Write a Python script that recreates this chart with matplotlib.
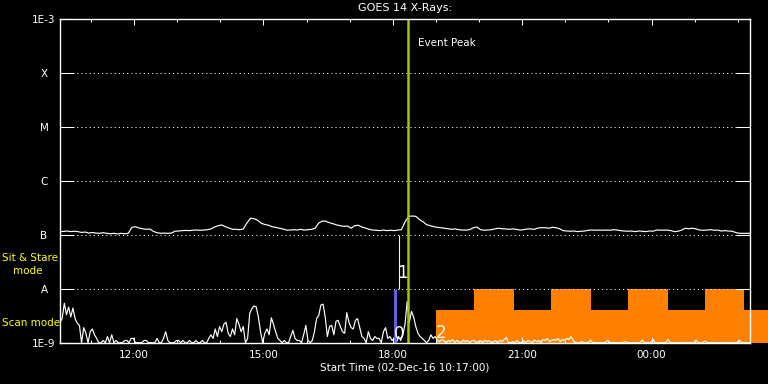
import numpy as np
import matplotlib
matplotlib.use("Agg")
import matplotlib.pyplot as plt
from matplotlib.ticker import FixedLocator, NullLocator, FuncFormatter, MultipleLocator

# ---------------- data ----------------
# time in hours since 00:00 on 02-Dec-2016
t_start = 10 + 17 / 60.0
t_span = 16.0

# GOES 14 long channel (1-8 A), 5-minute cadence, in units of 1e-7 W/m^2
long_vals = [
    1.15, 1.16, 1.18, 1.15, 1.17, 1.15, 1.11, 1.13, 1.08, 1.11,
    1.08, 1.07, 1.10, 1.07, 1.05, 1.07, 1.04, 1.07, 1.05, 1.07,
    1.38, 1.42, 1.34, 1.30, 1.27, 1.29, 1.16, 1.10, 1.07, 1.08,
    1.07, 1.08, 1.17, 1.18, 1.20, 1.21, 1.20, 1.22, 1.23, 1.22,
    1.23, 1.25, 1.29, 1.40, 1.48, 1.53, 1.42, 1.34, 1.27, 1.27,
    1.25, 1.29, 1.66, 2.03, 2.00, 1.87, 1.64, 1.56, 1.51, 1.42,
    1.38, 1.33, 1.29, 1.23, 1.23, 1.25, 1.23, 1.27, 1.23, 1.25,
    1.27, 1.33, 1.66, 1.81, 1.79, 1.68, 1.61, 1.53, 1.48, 1.44,
    1.46, 1.33, 1.48, 1.51, 1.40, 1.34, 1.27, 1.23, 1.22, 1.20,
    1.23, 1.20, 1.22, 1.20, 1.23, 1.25, 1.73, 2.21, 2.24, 2.21,
    1.93, 1.76, 1.55, 1.48, 1.42, 1.38, 1.36, 1.33, 1.30, 1.27,
    1.29, 1.25, 1.23, 1.23, 1.25, 1.36, 1.40, 1.25, 1.22, 1.23,
    1.25, 1.29, 1.33, 1.30, 1.29, 1.27, 1.29, 1.27, 1.23, 1.25,
    1.29, 1.29, 1.27, 1.34, 1.36, 1.36, 1.33, 1.38, 1.36, 1.30,
    1.20, 1.18, 1.17, 1.18, 1.15, 1.17, 1.18, 1.22, 1.23, 1.22,
    1.23, 1.22, 1.23, 1.22, 1.25, 1.23, 1.20, 1.18, 1.17, 1.18,
    1.15, 1.18, 1.17, 1.15, 1.18, 1.17, 1.23, 1.23, 1.22, 1.23,
    1.20, 1.15, 1.17, 1.23, 1.33, 1.30, 1.33, 1.29, 1.23, 1.22,
    1.23, 1.25, 1.22, 1.23, 1.18, 1.20, 1.18, 1.17, 1.11, 1.07,
    1.07, 1.07, 1.07,
]

# GOES 14 short channel (0.5-4 A), 3-minute cadence, in units of 1e-9 W/m^2
short_vals = [
    2.4, 2.8, 5.4, 3.3, 4.6, 3.0, 4.4, 2.8, 2.3, 2.1,
    1.0, 1.9, 1.5, 1.0, 1.6, 1.8, 1.4, 1.2, 1.0, 1.0,
    1.1, 1.0, 1.3, 1.0, 1.4, 1.0, 1.1, 1.0, 1.0, 1.0,
    1.1, 1.1, 1.0, 1.2, 1.2, 1.0, 1.0, 1.0, 1.0, 1.1,
    1.1, 1.0, 1.0, 1.0, 1.0, 1.2, 1.0, 1.0, 1.2, 1.6,
    1.1, 1.0, 1.0, 1.0, 1.1, 1.1, 1.0, 1.1, 1.0, 1.0,
    1.1, 1.0, 1.0, 1.1, 1.0, 1.0, 1.1, 1.0, 1.0, 1.2,
    1.4, 1.2, 1.8, 1.3, 2.0, 1.6, 2.2, 2.4, 1.5, 1.3,
    1.8, 1.4, 2.8, 2.2, 1.6, 2.0, 1.0, 1.2, 3.5, 4.3,
    4.8, 4.6, 3.0, 1.6, 1.0, 1.5, 1.8, 1.4, 2.9, 2.2,
    1.6, 1.2, 1.1, 1.0, 1.1, 1.0, 1.0, 1.3, 1.7, 1.2,
    1.1, 1.1, 1.0, 1.4, 2.1, 1.1, 1.0, 1.1, 1.6, 2.8,
    3.2, 5.0, 5.2, 3.0, 1.3, 2.0, 2.1, 1.4, 2.5, 2.6,
    2.0, 1.6, 1.5, 3.6, 2.4, 1.9, 1.8, 2.6, 2.8, 1.9,
    1.3, 1.2, 1.0, 1.6, 1.2, 1.1, 1.3, 1.2, 1.2, 1.0,
    1.6, 1.9, 1.2, 1.3, 1.1, 1.2, 1.0, 1.3, 1.1, 1.4,
    2.2, 5.8, 2.4, 3.8, 3.0, 2.0, 1.5, 1.3, 1.2, 1.1,
    1.0, 1.1, 1.4, 1.2, 1.3, 1.1, 1.05, 1.15, 1.1, 1.0,
    1.1, 1.05, 1.15, 1.0, 1.1, 1.05, 1.0, 1.12, 1.05, 1.1,
    1.0, 1.08, 1.12, 1.0, 1.05, 1.1, 1.0, 1.12, 1.05, 1.1,
    1.0, 1.05, 1.1, 1.0, 1.12, 1.05, 1.15, 1.25, 1.0, 1.0,
    1.05, 1.0, 1.1, 1.0, 1.0, 1.08, 1.0, 1.1, 1.05, 1.0,
    1.12, 1.05, 1.1, 1.0, 1.15, 1.1, 1.2, 1.05, 1.1, 1.15,
    1.1, 1.2, 1.05, 1.15, 1.1, 1.2, 1.15, 1.3, 1.1, 1.0,
    1.0, 1.0, 1.05, 1.0, 1.0, 1.0, 1.12, 1.0, 1.0, 1.0,
    1.0, 1.0, 1.0, 1.0, 1.12, 1.0, 1.0, 1.0, 1.0, 1.0,
    1.0, 1.0, 1.05, 1.0, 1.0, 1.0, 1.0, 1.0, 1.0, 1.0,
    1.12, 1.0, 1.0, 1.0, 1.0, 1.15, 1.0, 1.0, 1.0, 1.0,
    1.0, 1.0, 1.15, 1.0, 1.0, 1.0, 1.0, 1.0, 1.0, 1.0,
    1.0, 1.0, 1.0, 1.0, 1.0, 1.12, 1.0, 1.0, 1.0, 1.08,
    1.0, 1.0, 1.0, 1.0, 1.0, 1.0, 1.0, 1.0, 1.0, 1.0,
    1.0, 1.0, 1.0, 1.0, 1.0, 1.12, 1.0, 1.0, 1.0, 1.0,
    1.0,
]

# observing-mode blocks (hours) and their levels (W/m^2)
mode_edges = [19.00, 19.883, 20.811, 21.669, 22.597, 23.454, 24.382, 25.240, 26.144, 26.70]
mode_levels = [4e-9, 1e-8, 4e-9, 1e-8, 4e-9, 1e-8, 4e-9, 1e-8, 4e-9]

# event markers (hours)
t_scan_start = 18.063   # "0"
t_sitstare = 18.151     # "1"
t_peak = 18.360         # Event Peak
t_mode2 = 19.118        # "2"

ytick_vals = [1e-9, 1e-8, 1e-7, 1e-6, 1e-5, 1e-4, 1e-3]
ytick_labels = ["1E-9", "A", "B", "C", "M", "X", "1E-3"]
grid_levels = [1e-8, 1e-7, 1e-6, 1e-5, 1e-4]
xmajor_hours = [12, 15, 18, 21, 24]

long_flux = np.array(long_vals) * 1e-7
long_time = t_start + np.arange(len(long_flux)) * 5 / 60.0
short_flux = np.array(short_vals) * 1e-9
short_time = t_start + np.arange(len(short_flux)) * 3 / 60.0

# ---------------- figure ----------------
plt.rcParams["font.family"] = ["DejaVu Sans"]
fig = plt.figure(figsize=(7.68, 3.84), dpi=100, facecolor="black")
ax = fig.add_axes([60 / 768, 1 - 342.7 / 384, 690 / 768, 323.4 / 384])
ax.set_facecolor("black")
ax.set_yscale("log")
ax.set_xlim(t_start, t_start + t_span)
ax.set_ylim(1e-9, 1e-3)

# mode blocks (extend past the right frame edge)
ax.fill_between(mode_edges, 1e-9, mode_levels + [mode_levels[-1]], step="post",
                color="#ff8000", linewidth=0, clip_on=False, zorder=1)

# dotted grid lines
for lv in grid_levels:
    ax.axhline(lv, color="white", lw=0.75, linestyle=(0, (1, 3)), zorder=2)

# data
ax.plot(long_time, long_flux, color="white", lw=0.85, zorder=3)
ax.plot(short_time, short_flux, color="white", lw=0.85, zorder=3)

# markers
ax.vlines(t_scan_start, 1e-9, 1e-8, color="#6666ff", lw=2.0, zorder=4)
ax.vlines(t_sitstare, 1e-8, 1e-7, color="#ffff80", lw=0.8, zorder=4)
ax.axvline(t_peak, color="#99cc00", lw=1.8, zorder=5)

ax.annotate("Event Peak", xy=(t_peak, 0.927), xycoords=("data", "axes fraction"),
            xytext=(7, 0), textcoords="offset points", color="white",
            fontsize=7.5, va="center", ha="left", zorder=6)
ax.text(t_sitstare, 1.45e-9, "0", color="white", fontsize=12, ha="center", va="center", zorder=6)
ax.text(18.214, 2.0e-8, "1", color="white", fontsize=12, ha="center", va="center", zorder=6)
ax.text(t_mode2, 1.5e-9, "2", color="white", fontsize=12, ha="center", va="center", zorder=6)

# axes styling
for sp in ax.spines.values():
    sp.set_color("white")
    sp.set_linewidth(1.0)
    sp.set_zorder(7)

ax.yaxis.set_major_locator(FixedLocator(ytick_vals))
ax.yaxis.set_minor_locator(NullLocator())
ax.set_yticklabels(ytick_labels)
ax.tick_params(axis="y", which="major", direction="in", length=10, width=0.75,
               left=True, right=True, colors="white", labelsize=7.5, pad=11.5)
for lab in ax.get_yticklabels():
    lab.set_horizontalalignment("center")

ax.xaxis.set_major_locator(FixedLocator(xmajor_hours))
ax.xaxis.set_minor_locator(MultipleLocator(1))
ax.xaxis.set_major_formatter(FuncFormatter(lambda v, p: "%02d:00" % (int(round(v)) % 24)))
ax.tick_params(axis="x", which="major", direction="in", length=4.4, width=0.75,
               top=True, bottom=True, colors="white", labelsize=7.5, pad=5.5)
ax.tick_params(axis="x", which="minor", direction="in", length=2.3, width=0.75,
               top=True, bottom=True, colors="white")

# texts outside the axes
fig.text(405 / 768, 1 - 8 / 384, "GOES 14 X-Rays:", color="white", fontsize=8,
         ha="center", va="center")
fig.text(405 / 768, 1 - 368 / 384, "Start Time (02-Dec-16 10:17:00)", color="white",
         fontsize=7.5, ha="center", va="center")
fig.text(2 / 768, 1 - 258 / 384, "Sit & Stare", color="yellow", fontsize=7.5,
         ha="left", va="center")
fig.text(13 / 768, 1 - 271 / 384, "mode", color="yellow", fontsize=7.5,
         ha="left", va="center")
fig.text(2 / 768, 1 - 323 / 384, "Scan mode", color="yellow", fontsize=7.5,
         ha="left", va="center")

fig.savefig("out.png", dpi=100, facecolor="black")
